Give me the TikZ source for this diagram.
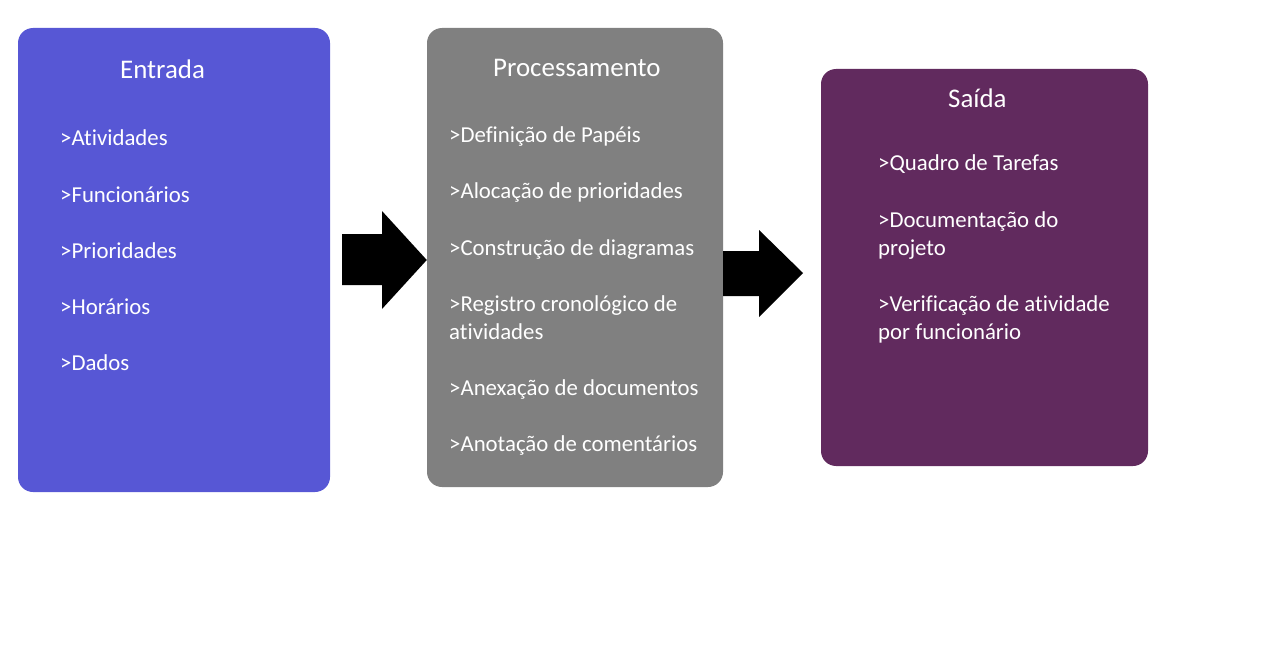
\documentclass[tikz,border=0pt]{standalone}
\usepackage{fontspec}
\setmainfont{Carlito}[Ligatures=NoCommon]
\definecolor{azulEntrada}{HTML}{5757D5}
\definecolor{cinzaProc}{HTML}{808080}
\definecolor{roxoSaida}{HTML}{612A5E}
\begin{document}
\begin{tikzpicture}[x=1pt,y=-1pt]
\tikzset{
  caixa/.style={rounded corners=15pt, inner sep=0pt},
  titulo/.style={anchor=base west, text=white, inner sep=0pt, font=\fontsize{26.9}{32}\selectfont},
  item/.style={anchor=base west, text=white, inner sep=0pt, font=\fontsize{22.8}{28}\selectfont}
}
\useasboundingbox (0,0) rectangle (1267,666);

% as tres caixas
\node[caixa, fill=azulEntrada, minimum width=312pt, minimum height=464pt] (entrada) at (174,260) {};
\node[caixa, fill=cinzaProc, minimum width=296pt, minimum height=459pt] (proc) at (575,257.5) {};
\node[caixa, fill=roxoSaida, minimum width=327pt, minimum height=397pt] (saida) at (984.5,267.5) {};

% setas entre as caixas
\fill[black] (342,234) -- (382,234) -- (382,211) -- (proc.west |- 0,260) -- (382,309) -- (382,285) -- (342,285) -- cycle;
\fill[black] (proc.east |- 0,251) -- (759,251) -- (759,230) -- (803,273) -- (759,317) -- (759,296) -- (proc.east |- 0,296) -- cycle;

% titulos
\node[titulo] (tEntrada) at (120,79) {Entrada};
\node[titulo] (tProc) at (493,77) {Processamento};
\node[titulo] (tSaida) at (948,108) {Saída};

% itens da entrada
\foreach \txt [count=\i] in {>Atividades, >Funcionários, >Prioridades, >Horários, >Dados} {
    \node[item] (e\i) at (60,{146+56*(\i-1)}) {\txt};
}

% itens do processamento
\foreach \y/\txt [count=\i] in {143/>Definição de Papéis, 199/>Alocação de prioridades, 255/>Construção de diagramas, 311/>Registro cronológico de, 339/atividades, 395/>Anexação de documentos, 451/>Anotação de comentários} {
    \node[item] (p\i) at (449,\y) {\txt};
}

% itens da saida
\foreach \y/\txt [count=\i] in {171/>Quadro de Tarefas, 227/>Documentação do, 255/projeto, 311/>Verificação de atividade, 339/por funcionário} {
    \node[item] (s\i) at (878,\y) {\txt};
}

\end{tikzpicture}
\end{document}
